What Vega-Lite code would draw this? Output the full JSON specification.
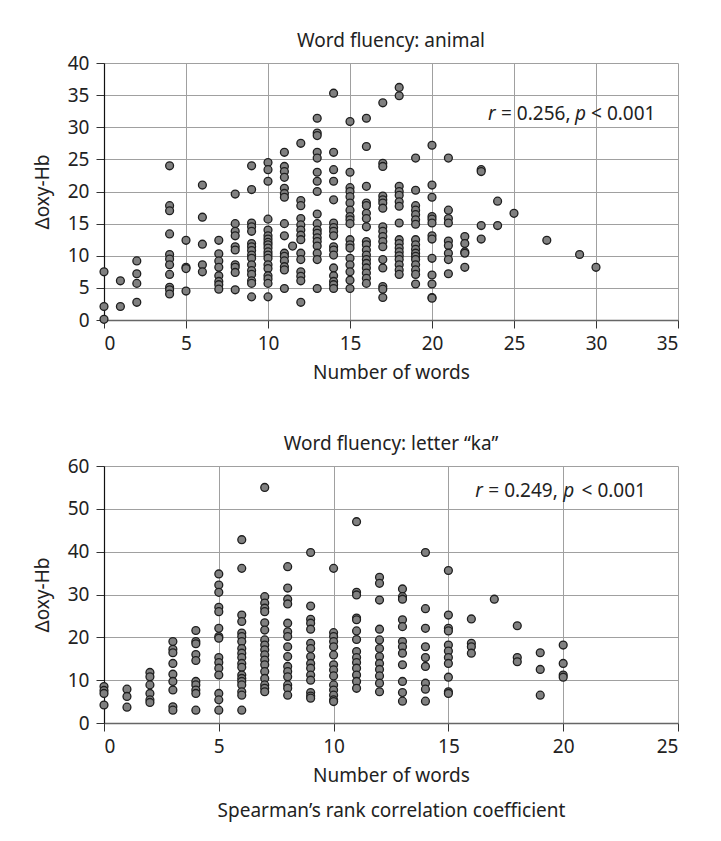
{
  "$schema": "https://vega.github.io/schema/vega-lite/v6.json",
  "background": "white",
  "padding": {"left": 33, "top": 32, "right": 30, "bottom": 10},
  "spacing": 53,
  "config": {
    "font": "Noto Sans",
    "view": {"stroke": null},
    "title": {"fontSize": 19, "fontWeight": "normal", "color": "#222", "offset": 3},
    "axis": {
      "labelFontSize": 19, "titleFontSize": 19, "titleFontWeight": "normal",
      "labelColor": "#222", "titleColor": "#222", "tickColor": "#333", "tickSize": 8,
      "gridColor": "#a0a0a0", "gridWidth": 1, "domainColor": "#333"
    },
    "axisX": {"labelPadding": 6, "titlePadding": 10, "domainColor": "#666", "domainWidth": 1.5},
    "axisY": {"labelPadding": 7, "titlePadding": 15, "domainColor": "#111", "domainWidth": 1.2}
  },
  "datasets": {
    "animal": [
      {"words":0,"oxy":7.5},{"words":0,"oxy":2.1},{"words":0,"oxy":0.1},
      {"words":1,"oxy":6.1},{"words":1,"oxy":2.1},
      {"words":2,"oxy":9.2},{"words":2,"oxy":7.2},{"words":2,"oxy":5.7},{"words":2,"oxy":2.75},
      {"words":4,"oxy":24.0},{"words":4,"oxy":17.8},{"words":4,"oxy":17.0},{"words":4,"oxy":13.4},{"words":4,"oxy":10.2},{"words":4,"oxy":9.5},{"words":4,"oxy":8.6},{"words":4,"oxy":7.1},{"words":4,"oxy":5.1},{"words":4,"oxy":4.7},{"words":4,"oxy":4.05},
      {"words":5,"oxy":12.4},{"words":5,"oxy":8.2},{"words":5,"oxy":8.0},{"words":5,"oxy":4.5},
      {"words":6,"oxy":21.0},{"words":6,"oxy":16.0},{"words":6,"oxy":11.8},{"words":6,"oxy":8.6},{"words":6,"oxy":7.5},
      {"words":7,"oxy":12.4},{"words":7,"oxy":10.3},{"words":7,"oxy":9.2},{"words":7,"oxy":8.2},{"words":7,"oxy":6.9},{"words":7,"oxy":6.0},{"words":7,"oxy":5.5},{"words":7,"oxy":4.8},
      {"words":8,"oxy":19.6},{"words":8,"oxy":15.0},{"words":8,"oxy":13.8},{"words":8,"oxy":13.1},{"words":8,"oxy":11.4},{"words":8,"oxy":10.9},{"words":8,"oxy":8.6},{"words":8,"oxy":8.2},{"words":8,"oxy":7.4},{"words":8,"oxy":4.7},
      {"words":9,"oxy":24.0},{"words":9,"oxy":20.3},{"words":9,"oxy":15.1},{"words":9,"oxy":14.5},{"words":9,"oxy":13.8},{"words":9,"oxy":11.9},{"words":9,"oxy":11.4},{"words":9,"oxy":10.8},{"words":9,"oxy":10.1},{"words":9,"oxy":9.6},{"words":9,"oxy":8.6},{"words":9,"oxy":7.7},{"words":9,"oxy":7.1},{"words":9,"oxy":6.1},{"words":9,"oxy":5.7},{"words":9,"oxy":3.6},
      {"words":10,"oxy":24.5},{"words":10,"oxy":23.4},{"words":10,"oxy":21.6},{"words":10,"oxy":15.7},{"words":10,"oxy":14.0},{"words":10,"oxy":13.1},{"words":10,"oxy":12.6},{"words":10,"oxy":12.1},{"words":10,"oxy":11.7},{"words":10,"oxy":11.2},{"words":10,"oxy":10.6},{"words":10,"oxy":10.1},{"words":10,"oxy":9.6},{"words":10,"oxy":8.6},{"words":10,"oxy":8.0},{"words":10,"oxy":6.9},{"words":10,"oxy":6.4},{"words":10,"oxy":5.7},{"words":10,"oxy":3.6},
      {"words":11,"oxy":26.1},{"words":11,"oxy":23.9},{"words":11,"oxy":23.1},{"words":11,"oxy":22.2},{"words":11,"oxy":20.5},{"words":11,"oxy":19.7},{"words":11,"oxy":19.1},{"words":11,"oxy":15.0},{"words":11,"oxy":13.1},{"words":11,"oxy":10.4},{"words":11,"oxy":9.9},{"words":11,"oxy":9.2},{"words":11,"oxy":8.3},{"words":11,"oxy":7.8},{"words":11,"oxy":4.9},
      {"words":11.5,"oxy":11.5},
      {"words":12,"oxy":27.5},{"words":12,"oxy":18.6},{"words":12,"oxy":17.8},{"words":12,"oxy":15.8},{"words":12,"oxy":14.8},{"words":12,"oxy":14.0},{"words":12,"oxy":13.2},{"words":12,"oxy":12.5},{"words":12,"oxy":10.4},{"words":12,"oxy":9.4},{"words":12,"oxy":7.5},{"words":12,"oxy":6.8},{"words":12,"oxy":6.1},{"words":12,"oxy":2.75},
      {"words":13,"oxy":31.4},{"words":13,"oxy":29.1},{"words":13,"oxy":28.7},{"words":13,"oxy":26.1},{"words":13,"oxy":25.2},{"words":13,"oxy":23.0},{"words":13,"oxy":21.6},{"words":13,"oxy":20.0},{"words":13,"oxy":16.5},{"words":13,"oxy":15.0},{"words":13,"oxy":14.0},{"words":13,"oxy":13.5},{"words":13,"oxy":12.8},{"words":13,"oxy":12.2},{"words":13,"oxy":11.5},{"words":13,"oxy":10.4},{"words":13,"oxy":9.4},{"words":13,"oxy":4.9},
      {"words":14,"oxy":35.3},{"words":14,"oxy":26.1},{"words":14,"oxy":23.4},{"words":14,"oxy":21.6},{"words":14,"oxy":18.7},{"words":14,"oxy":15.1},{"words":14,"oxy":14.4},{"words":14,"oxy":13.8},{"words":14,"oxy":13.1},{"words":14,"oxy":11.4},{"words":14,"oxy":10.9},{"words":14,"oxy":10.1},{"words":14,"oxy":8.1},{"words":14,"oxy":6.9},{"words":14,"oxy":6.0},{"words":14,"oxy":5.5},{"words":14,"oxy":4.9},
      {"words":15,"oxy":30.9},{"words":15,"oxy":23.0},{"words":15,"oxy":20.6},{"words":15,"oxy":20.0},{"words":15,"oxy":19.2},{"words":15,"oxy":18.2},{"words":15,"oxy":17.1},{"words":15,"oxy":16.1},{"words":15,"oxy":15.6},{"words":15,"oxy":15.0},{"words":15,"oxy":12.5},{"words":15,"oxy":11.7},{"words":15,"oxy":11.2},{"words":15,"oxy":9.6},{"words":15,"oxy":8.6},{"words":15,"oxy":7.5},{"words":15,"oxy":6.2},{"words":15,"oxy":4.9},
      {"words":16,"oxy":31.4},{"words":16,"oxy":27.0},{"words":16,"oxy":20.8},{"words":16,"oxy":18.2},{"words":16,"oxy":17.8},{"words":16,"oxy":16.6},{"words":16,"oxy":15.8},{"words":16,"oxy":14.5},{"words":16,"oxy":12.2},{"words":16,"oxy":11.7},{"words":16,"oxy":10.9},{"words":16,"oxy":10.1},{"words":16,"oxy":9.4},{"words":16,"oxy":8.8},{"words":16,"oxy":8.1},{"words":16,"oxy":7.3},{"words":16,"oxy":6.5},{"words":16,"oxy":5.7},
      {"words":17,"oxy":33.8},{"words":17,"oxy":24.4},{"words":17,"oxy":23.9},{"words":17,"oxy":19.3},{"words":17,"oxy":18.7},{"words":17,"oxy":18.2},{"words":17,"oxy":17.4},{"words":17,"oxy":14.5},{"words":17,"oxy":13.8},{"words":17,"oxy":13.0},{"words":17,"oxy":12.2},{"words":17,"oxy":11.4},{"words":17,"oxy":9.4},{"words":17,"oxy":8.1},{"words":17,"oxy":5.2},{"words":17,"oxy":4.8},{"words":17,"oxy":3.5},
      {"words":18,"oxy":36.2},{"words":18,"oxy":34.9},{"words":18,"oxy":20.8},{"words":18,"oxy":20.0},{"words":18,"oxy":19.4},{"words":18,"oxy":18.4},{"words":18,"oxy":17.7},{"words":18,"oxy":15.1},{"words":18,"oxy":12.5},{"words":18,"oxy":11.9},{"words":18,"oxy":11.2},{"words":18,"oxy":10.6},{"words":18,"oxy":10.0},{"words":18,"oxy":9.4},{"words":18,"oxy":8.6},{"words":18,"oxy":7.8},{"words":18,"oxy":7.1},
      {"words":19,"oxy":25.2},{"words":19,"oxy":20.2},{"words":19,"oxy":17.8},{"words":19,"oxy":17.1},{"words":19,"oxy":16.4},{"words":19,"oxy":15.6},{"words":19,"oxy":14.9},{"words":19,"oxy":12.5},{"words":19,"oxy":11.7},{"words":19,"oxy":11.0},{"words":19,"oxy":10.4},{"words":19,"oxy":9.9},{"words":19,"oxy":9.4},{"words":19,"oxy":8.6},{"words":19,"oxy":7.8},{"words":19,"oxy":7.1},{"words":19,"oxy":5.6},
      {"words":20,"oxy":27.2},{"words":20,"oxy":21.0},{"words":20,"oxy":19.1},{"words":20,"oxy":16.1},{"words":20,"oxy":15.7},{"words":20,"oxy":15.1},{"words":20,"oxy":13.1},{"words":20,"oxy":12.6},{"words":20,"oxy":9.6},{"words":20,"oxy":7.0},{"words":20,"oxy":5.6},{"words":20,"oxy":3.5},{"words":20,"oxy":3.4},
      {"words":21,"oxy":25.2},{"words":21,"oxy":17.1},{"words":21,"oxy":15.8},{"words":21,"oxy":15.1},{"words":21,"oxy":12.3},{"words":21,"oxy":11.6},{"words":21,"oxy":10.4},{"words":21,"oxy":9.4},{"words":21,"oxy":7.2},
      {"words":22,"oxy":13.0},{"words":22,"oxy":11.9},{"words":22,"oxy":10.6},{"words":22,"oxy":10.4},{"words":22,"oxy":8.2},
      {"words":23,"oxy":23.4},{"words":23,"oxy":23.1},{"words":23,"oxy":14.7},{"words":23,"oxy":12.6},
      {"words":24,"oxy":18.5},{"words":24,"oxy":14.7},
      {"words":25,"oxy":16.6},{"words":27,"oxy":12.4},{"words":29,"oxy":10.2},{"words":30,"oxy":8.2}
    ],
    "ka": [
      {"words":0,"oxy":8.5},{"words":0,"oxy":7.6},{"words":0,"oxy":6.9},{"words":0,"oxy":4.2},
      {"words":1,"oxy":7.9},{"words":1,"oxy":6.2},{"words":1,"oxy":3.7},
      {"words":2,"oxy":11.8},{"words":2,"oxy":10.8},{"words":2,"oxy":8.9},{"words":2,"oxy":6.9},{"words":2,"oxy":5.4},{"words":2,"oxy":4.8},
      {"words":3,"oxy":19.0},{"words":3,"oxy":17.2},{"words":3,"oxy":16.4},{"words":3,"oxy":13.9},{"words":3,"oxy":11.4},{"words":3,"oxy":9.7},{"words":3,"oxy":7.7},{"words":3,"oxy":3.8},{"words":3,"oxy":3.0},
      {"words":4,"oxy":21.6},{"words":4,"oxy":19.0},{"words":4,"oxy":18.5},{"words":4,"oxy":16.0},{"words":4,"oxy":14.6},{"words":4,"oxy":9.7},{"words":4,"oxy":8.9},{"words":4,"oxy":7.7},{"words":4,"oxy":6.9},{"words":4,"oxy":3.0},
      {"words":5,"oxy":34.8},{"words":5,"oxy":32.2},{"words":5,"oxy":30.5},{"words":5,"oxy":27.0},{"words":5,"oxy":26.0},{"words":5,"oxy":22.1},{"words":5,"oxy":20.2},{"words":5,"oxy":19.8},{"words":5,"oxy":15.3},{"words":5,"oxy":14.1},{"words":5,"oxy":12.8},{"words":5,"oxy":11.2},{"words":5,"oxy":6.9},{"words":5,"oxy":5.4},{"words":5,"oxy":3.0},
      {"words":6,"oxy":42.8},{"words":6,"oxy":36.1},{"words":6,"oxy":25.2},{"words":6,"oxy":23.7},{"words":6,"oxy":21.0},{"words":6,"oxy":20.2},{"words":6,"oxy":19.0},{"words":6,"oxy":17.4},{"words":6,"oxy":16.3},{"words":6,"oxy":15.3},{"words":6,"oxy":13.9},{"words":6,"oxy":13.0},{"words":6,"oxy":11.2},{"words":6,"oxy":10.4},{"words":6,"oxy":9.7},{"words":6,"oxy":8.9},{"words":6,"oxy":7.3},{"words":6,"oxy":6.5},{"words":6,"oxy":3.0},
      {"words":7,"oxy":55.0},{"words":7,"oxy":29.5},{"words":7,"oxy":28.0},{"words":7,"oxy":26.8},{"words":7,"oxy":26.0},{"words":7,"oxy":23.4},{"words":7,"oxy":21.7},{"words":7,"oxy":19.4},{"words":7,"oxy":18.2},{"words":7,"oxy":17.1},{"words":7,"oxy":15.9},{"words":7,"oxy":14.7},{"words":7,"oxy":13.6},{"words":7,"oxy":12.0},{"words":7,"oxy":10.4},{"words":7,"oxy":8.9},{"words":7,"oxy":8.1},{"words":7,"oxy":7.3},
      {"words":8,"oxy":36.5},{"words":8,"oxy":31.5},{"words":8,"oxy":28.9},{"words":8,"oxy":27.8},{"words":8,"oxy":23.3},{"words":8,"oxy":21.3},{"words":8,"oxy":20.2},{"words":8,"oxy":17.8},{"words":8,"oxy":15.5},{"words":8,"oxy":13.2},{"words":8,"oxy":12.0},{"words":8,"oxy":10.8},{"words":8,"oxy":8.9},{"words":8,"oxy":8.1},{"words":8,"oxy":6.5},
      {"words":9,"oxy":39.8},{"words":9,"oxy":27.3},{"words":9,"oxy":24.2},{"words":9,"oxy":23.3},{"words":9,"oxy":21.9},{"words":9,"oxy":18.6},{"words":9,"oxy":17.4},{"words":9,"oxy":15.5},{"words":9,"oxy":13.9},{"words":9,"oxy":12.8},{"words":9,"oxy":11.2},{"words":9,"oxy":10.0},{"words":9,"oxy":7.1},{"words":9,"oxy":6.3},{"words":9,"oxy":5.8},
      {"words":10,"oxy":36.1},{"words":10,"oxy":21.1},{"words":10,"oxy":20.2},{"words":10,"oxy":19.0},{"words":10,"oxy":17.8},{"words":10,"oxy":15.9},{"words":10,"oxy":13.6},{"words":10,"oxy":12.4},{"words":10,"oxy":11.0},{"words":10,"oxy":8.9},{"words":10,"oxy":7.7},{"words":10,"oxy":6.5},{"words":10,"oxy":5.4},{"words":10,"oxy":5.0},
      {"words":11,"oxy":47.0},{"words":11,"oxy":30.5},{"words":11,"oxy":29.9},{"words":11,"oxy":24.5},{"words":11,"oxy":24.1},{"words":11,"oxy":21.5},{"words":11,"oxy":19.5},{"words":11,"oxy":16.7},{"words":11,"oxy":15.3},{"words":11,"oxy":14.1},{"words":11,"oxy":12.8},{"words":11,"oxy":11.2},{"words":11,"oxy":9.7},{"words":11,"oxy":8.1},
      {"words":12,"oxy":34.0},{"words":12,"oxy":32.6},{"words":12,"oxy":28.7},{"words":12,"oxy":21.9},{"words":12,"oxy":19.4},{"words":12,"oxy":17.4},{"words":12,"oxy":15.5},{"words":12,"oxy":13.9},{"words":12,"oxy":12.5},{"words":12,"oxy":11.0},{"words":12,"oxy":9.3},{"words":12,"oxy":7.3},
      {"words":13,"oxy":31.3},{"words":13,"oxy":29.5},{"words":13,"oxy":28.9},{"words":13,"oxy":24.1},{"words":13,"oxy":22.5},{"words":13,"oxy":19.0},{"words":13,"oxy":17.8},{"words":13,"oxy":16.3},{"words":13,"oxy":13.6},{"words":13,"oxy":9.7},{"words":13,"oxy":7.1},{"words":13,"oxy":5.1},
      {"words":14,"oxy":39.8},{"words":14,"oxy":26.7},{"words":14,"oxy":22.1},{"words":14,"oxy":17.8},{"words":14,"oxy":15.3},{"words":14,"oxy":13.2},{"words":14,"oxy":9.3},{"words":14,"oxy":7.9},{"words":14,"oxy":5.1},
      {"words":15,"oxy":35.6},{"words":15,"oxy":25.2},{"words":15,"oxy":22.1},{"words":15,"oxy":21.5},{"words":15,"oxy":18.2},{"words":15,"oxy":16.8},{"words":15,"oxy":15.3},{"words":15,"oxy":13.9},{"words":15,"oxy":10.7},{"words":15,"oxy":7.3},{"words":15,"oxy":6.9},
      {"words":16,"oxy":24.3},{"words":16,"oxy":18.6},{"words":16,"oxy":17.8},{"words":16,"oxy":16.3},
      {"words":17,"oxy":28.9},
      {"words":18,"oxy":22.7},{"words":18,"oxy":15.3},{"words":18,"oxy":14.3},
      {"words":19,"oxy":16.4},{"words":19,"oxy":12.5},{"words":19,"oxy":6.5},
      {"words":20,"oxy":18.2},{"words":20,"oxy":13.9},{"words":20,"oxy":11.2},{"words":20,"oxy":10.7}
    ],
    "animal_plain": [{"words":24.21,"oxy":32.1,"t":"= 0.256,"},{"words":29.7,"oxy":32.1,"t":"< 0.001"}],
    "animal_italic": [{"words":23.41,"oxy":32.1,"t":"r"},{"words":28.72,"oxy":32.1,"t":"p"}],
    "ka_plain": [{"words":16.74,"oxy":54.1,"t":"= 0.249,"},{"words":20.8,"oxy":54.1,"t":"< 0.001"}],
    "ka_italic": [{"words":16.17,"oxy":54.1,"t":"r"},{"words":20.0,"oxy":54.1,"t":"p"}]
  },
  "vconcat": [
    {
      "title": "Word fluency: animal",
      "width": 574,
      "height": 257,
      "encoding": {
        "x": {"field": "words", "type": "quantitative", "scale": {"domain": [0, 35], "nice": false},
              "axis": {"values": [0,5,10,15,20,25,30,35], "title": "Number of words"}},
        "y": {"field": "oxy", "type": "quantitative", "scale": {"domain": [0, 40], "nice": false},
              "axis": {"values": [0,5,10,15,20,25,30,35,40], "title": "Δoxy-Hb"}}
      },
      "layer": [
        {"data": {"name": "animal"}, "mark": {"type": "circle", "size": 62, "fill": "#808080", "fillOpacity": 1, "stroke": "#1e1e1e", "strokeWidth": 1.3}},
        {"data": {"name": "animal_plain"}, "mark": {"type": "text", "align": "left", "baseline": "middle", "fontSize": 19, "color": "#222"}, "encoding": {"text": {"field": "t"}}},
        {"data": {"name": "animal_italic"}, "mark": {"type": "text", "align": "left", "baseline": "middle", "fontSize": 19, "fontStyle": "italic", "color": "#222"}, "encoding": {"text": {"field": "t"}}}
      ]
    },
    {
      "title": "Word fluency: letter “ka”",
      "width": 574,
      "height": 257,
      "encoding": {
        "x": {"field": "words", "type": "quantitative", "scale": {"domain": [0, 25], "nice": false},
              "axis": {"values": [0,5,10,15,20,25], "title": ["Number of words", "Spearman’s rank correlation coefficient"], "titleLineHeight": 35}},
        "y": {"field": "oxy", "type": "quantitative", "scale": {"domain": [0, 60], "nice": false},
              "axis": {"values": [0,10,20,30,40,50,60], "title": "Δoxy-Hb"}}
      },
      "layer": [
        {"data": {"name": "ka"}, "mark": {"type": "circle", "size": 62, "fill": "#808080", "fillOpacity": 1, "stroke": "#1e1e1e", "strokeWidth": 1.3}},
        {"data": {"name": "ka_plain"}, "mark": {"type": "text", "align": "left", "baseline": "middle", "fontSize": 19, "color": "#222"}, "encoding": {"text": {"field": "t"}}},
        {"data": {"name": "ka_italic"}, "mark": {"type": "text", "align": "left", "baseline": "middle", "fontSize": 19, "fontStyle": "italic", "color": "#222"}, "encoding": {"text": {"field": "t"}}}
      ]
    }
  ]
}
